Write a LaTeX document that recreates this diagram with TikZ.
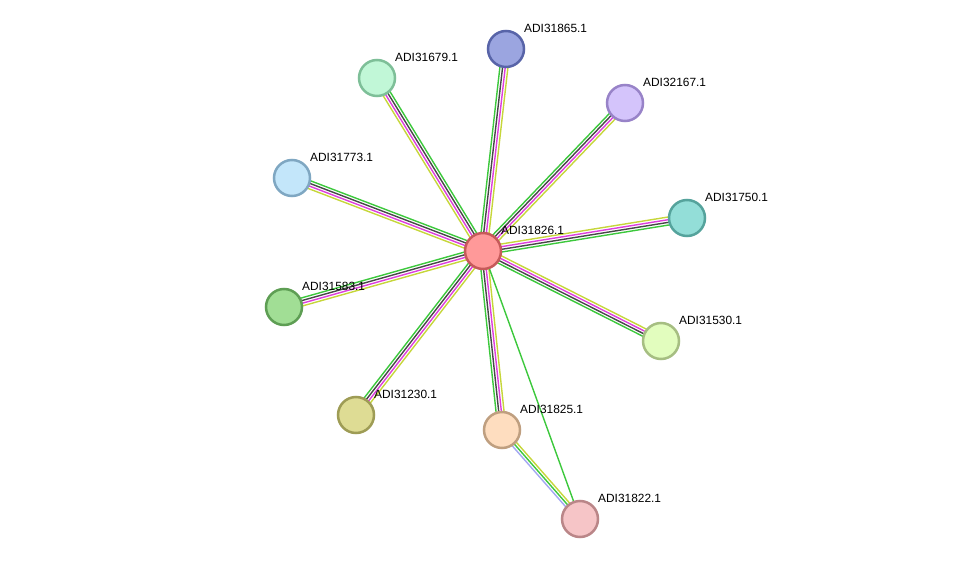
\documentclass[tikz,border=0pt]{standalone}
\usepackage{fontspec}
\setmainfont{Liberation Sans}
\usetikzlibrary{calc}
\pgfdeclarelayer{bg}
\pgfsetlayers{bg,main}
\definecolor{egreen}{HTML}{3CC83C}
\definecolor{edark}{HTML}{474747}
\definecolor{emag}{HTML}{DD3EDD}
\definecolor{eyel}{HTML}{C6D63A}
\definecolor{elav}{HTML}{A3A8F2}
\tikzset{
  prot/.style={circle, minimum size=36pt, inner sep=0pt, line width=2.5pt},
  lbl/.style={anchor=west, inner sep=0pt, font=\fontsize{11.9}{13}\selectfont, text=black},
  ln/.style={line width=1.4pt},
}
\newcommand\quadedge[2]{%
  \draw[ln,egreen] ($(#1.center)!4pt!90:(#2.center)$) -- ($(#2.center)!4pt!-90:(#1.center)$);
  \draw[ln,edark] ($(#1.center)!1.33pt!90:(#2.center)$) -- ($(#2.center)!1.33pt!-90:(#1.center)$);
  \draw[ln,emag] ($(#1.center)!1.33pt!-90:(#2.center)$) -- ($(#2.center)!1.33pt!90:(#1.center)$);
  \draw[ln,eyel] ($(#1.center)!4pt!-90:(#2.center)$) -- ($(#2.center)!4pt!90:(#1.center)$);
}
\begin{document}
\begin{tikzpicture}[x=1pt,y=-1pt]
\useasboundingbox (0,0) rectangle (975,564);
% nodes
\node[prot, fill={rgb,255:red,255;green,153;blue,153}, draw={rgb,255:red,198;green,90;blue,90}] (c) at (483,251) {};
\node[prot, fill={rgb,255:red,155;green,165;blue,224}, draw={rgb,255:red,88;green,100;blue,168}] (n865) at (506,49) {};
\node[prot, fill={rgb,255:red,193;green,247;blue,215}, draw={rgb,255:red,126;green,191;blue,152}] (n679) at (377,78) {};
\node[prot, fill={rgb,255:red,212;green,196;blue,251}, draw={rgb,255:red,152;green,131;blue,200}] (n167) at (625,103) {};
\node[prot, fill={rgb,255:red,195;green,230;blue,250}, draw={rgb,255:red,127;green,167;blue,194}] (n773) at (292,178) {};
\node[prot, fill={rgb,255:red,147;green,222;blue,216}, draw={rgb,255:red,85;green,163;blue,156}] (n750) at (687,218) {};
\node[prot, fill={rgb,255:red,161;green,222;blue,149}, draw={rgb,255:red,94;green,158;blue,84}] (n583) at (284,307) {};
\node[prot, fill={rgb,255:red,226;green,253;blue,190}, draw={rgb,255:red,166;green,190;blue,130}] (n530) at (661,341) {};
\node[prot, fill={rgb,255:red,222;green,220;blue,148}, draw={rgb,255:red,158;green,156;blue,85}] (n230) at (356,415) {};
\node[prot, fill={rgb,255:red,254;green,221;blue,191}, draw={rgb,255:red,191;green,159;blue,128}] (n825) at (502,430) {};
\node[prot, fill={rgb,255:red,246;green,197;blue,199}, draw={rgb,255:red,186;green,134;blue,136}] (n822) at (580,519) {};
% edges
\begin{pgfonlayer}{bg}
\quadedge{c}{n865}
\quadedge{c}{n167}
\quadedge{n679}{c}
\quadedge{n773}{c}
\quadedge{n583}{c}
\quadedge{n230}{c}
\quadedge{n825}{c}
\quadedge{n750}{c}
\quadedge{n530}{c}
\draw[ln,egreen] (c.center) -- (n822.center);
\draw[ln,elav] ($(n822.center)!2.7pt!90:(n825.center)$) -- ($(n825.center)!2.7pt!-90:(n822.center)$);
\draw[ln,egreen] (n822.center) -- (n825.center);
\draw[ln,eyel] ($(n822.center)!2.7pt!-90:(n825.center)$) -- ($(n825.center)!2.7pt!90:(n822.center)$);
\end{pgfonlayer}
% labels
\node[lbl] (l826) at ($(c.center)+(18,-20.5)$) {ADI31826.1};
\node[lbl] (l865) at ($(n865.center)+(18,-20.5)$) {ADI31865.1};
\node[lbl] (l679) at ($(n679.center)+(18,-20.5)$) {ADI31679.1};
\node[lbl] (l167) at ($(n167.center)+(18,-20.5)$) {ADI32167.1};
\node[lbl] (l773) at ($(n773.center)+(18,-20.5)$) {ADI31773.1};
\node[lbl] (l750) at ($(n750.center)+(18,-20.5)$) {ADI31750.1};
\node[lbl] (l583) at ($(n583.center)+(18,-20.5)$) {ADI31583.1};
\node[lbl] (l530) at ($(n530.center)+(18,-20.5)$) {ADI31530.1};
\node[lbl] (l230) at ($(n230.center)+(18,-20.5)$) {ADI31230.1};
\node[lbl] (l825) at ($(n825.center)+(18,-20.5)$) {ADI31825.1};
\node[lbl] (l822) at ($(n822.center)+(18,-20.5)$) {ADI31822.1};
\end{tikzpicture}
\end{document}
